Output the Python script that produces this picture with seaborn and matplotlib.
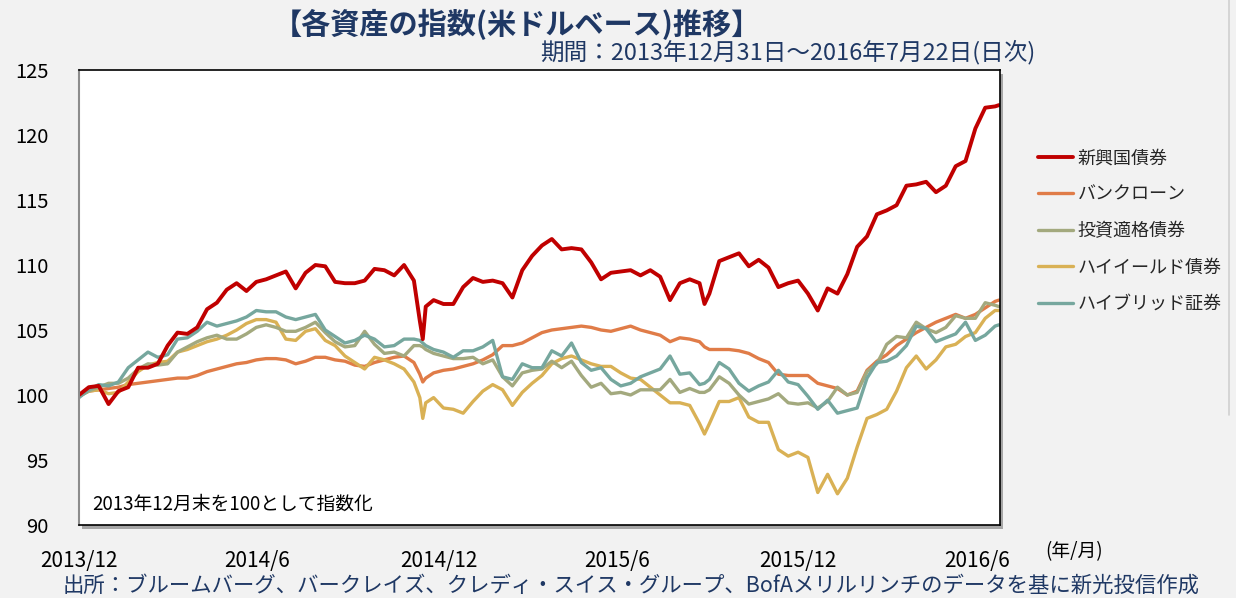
import numpy as np
import pandas as pd
import matplotlib
matplotlib.use("Agg")
import matplotlib.pyplot as plt
from matplotlib.patches import Rectangle
import seaborn as sns

# days after 2013-12-31
DAYS = [0, 10, 20, 30, 40, 50, 60, 70, 80, 90, 100, 110, 120, 130, 140, 150, 160, 170, 180, 190,
        200, 210, 220, 230, 240, 250, 260, 270, 280, 290, 300, 310, 320, 330, 340, 346, 349, 352, 360, 370,
        380, 390, 400, 410, 420, 430, 440, 450, 460, 470, 480, 490, 500, 510, 520, 530, 540, 550, 560, 570,
        580, 590, 600, 610, 620, 630, 635, 640, 650, 660, 670, 680, 690, 700, 710, 720, 730, 740, 750, 760,
        770, 780, 790, 800, 810, 820, 830, 840, 850, 860, 870, 880, 890, 900, 910, 920, 930, 934]

EM_BONDS = [100.0, 100.6, 100.7, 99.3, 100.3, 100.6, 102.1, 102.1, 102.4, 103.8, 104.8, 104.7, 105.2, 106.6, 107.1, 108.1, 108.6, 108.0, 108.7, 108.9,
            109.2, 109.5, 108.2, 109.4, 110.0, 109.9, 108.7, 108.6, 108.6, 108.8, 109.7, 109.6, 109.2, 110.0, 108.8, 105.7, 104.3, 106.8, 107.3, 107.0,
            107.0, 108.3, 109.0, 108.7, 108.8, 108.6, 107.5, 109.6, 110.7, 111.5, 112.0, 111.2, 111.3, 111.2, 110.2, 108.9, 109.4, 109.5, 109.6, 109.2,
            109.6, 109.1, 107.3, 108.6, 108.9, 108.6, 107.0, 107.8, 110.3, 110.6, 110.9, 109.9, 110.4, 109.8, 108.3, 108.6, 108.8, 107.8, 106.5, 108.2,
            107.8, 109.3, 111.4, 112.2, 113.9, 114.2, 114.6, 116.1, 116.2, 116.4, 115.6, 116.1, 117.6, 118.0, 120.5, 122.1, 122.2, 122.3]

BANK_LOAN = [100.0, 100.3, 100.4, 100.5, 100.6, 100.8, 100.9, 101.0, 101.1, 101.2, 101.3, 101.3, 101.5, 101.8, 102.0, 102.2, 102.4, 102.5, 102.7, 102.8,
             102.8, 102.7, 102.4, 102.6, 102.9, 102.9, 102.7, 102.6, 102.3, 102.2, 102.5, 102.7, 102.9, 103.0, 102.5, 101.6, 101.0, 101.3, 101.7, 101.9,
             102.0, 102.2, 102.4, 102.7, 103.1, 103.8, 103.8, 104.0, 104.4, 104.8, 105.0, 105.1, 105.2, 105.3, 105.2, 105.0, 104.9, 105.1, 105.3, 105.0,
             104.8, 104.6, 104.1, 104.4, 104.3, 104.1, 103.7, 103.5, 103.5, 103.5, 103.4, 103.2, 102.8, 102.5, 101.6, 101.5, 101.5, 101.5, 100.9, 100.7,
             100.5, 100.0, 100.3, 101.9, 102.6, 103.1, 103.8, 104.3, 104.8, 105.2, 105.6, 105.9, 106.2, 105.9, 106.2, 106.7, 107.2, 107.3]

IG_BONDS = [99.9, 100.3, 100.6, 100.9, 100.9, 101.3, 102.0, 102.4, 102.3, 102.4, 103.3, 103.7, 104.1, 104.4, 104.6, 104.3, 104.3, 104.7, 105.2, 105.4,
            105.2, 104.9, 104.9, 105.2, 105.6, 104.8, 104.1, 103.7, 103.8, 104.9, 103.9, 103.2, 103.3, 103.0, 103.8, 103.8, 103.7, 103.5, 103.2, 103.0,
            102.8, 102.8, 102.9, 102.4, 102.7, 101.4, 100.7, 101.7, 101.9, 102.0, 102.6, 102.1, 102.6, 101.5, 100.6, 100.9, 100.1, 100.2, 100.0, 100.4,
            100.4, 100.4, 101.2, 100.2, 100.5, 100.2, 100.2, 100.4, 101.4, 100.9, 100.0, 99.3, 99.5, 99.7, 100.1, 99.4, 99.3, 99.4, 99.0, 99.5,
            100.6, 100.0, 100.2, 101.8, 102.4, 103.9, 104.5, 104.4, 105.6, 105.1, 104.8, 105.2, 106.1, 105.9, 105.9, 107.1, 106.9, 106.8]

HIGH_YIELD = [99.9, 100.3, 100.4, 100.1, 100.2, 101.0, 101.8, 102.3, 102.5, 102.6, 103.3, 103.5, 103.8, 104.1, 104.3, 104.6, 105.0, 105.5, 105.8, 105.8,
              105.6, 104.3, 104.2, 104.9, 105.1, 104.2, 103.8, 103.0, 102.5, 102.0, 102.9, 102.7, 102.4, 102.0, 101.0, 99.8, 98.2, 99.4, 99.8, 99.0,
              98.9, 98.6, 99.5, 100.3, 100.8, 100.4, 99.2, 100.2, 100.9, 101.5, 102.4, 102.8, 103.0, 102.7, 102.4, 102.2, 102.2, 101.7, 101.3, 101.2,
              100.6, 100.0, 99.4, 99.4, 99.2, 97.8, 97.0, 97.8, 99.5, 99.5, 99.8, 98.3, 97.9, 97.9, 95.8, 95.3, 95.6, 95.2, 92.5, 93.9,
              92.4, 93.6, 96.0, 98.2, 98.5, 98.9, 100.3, 102.1, 103.0, 102.0, 102.7, 103.7, 103.9, 104.5, 104.8, 105.9, 106.5, 106.5]

HYBRID = [99.8, 100.4, 100.8, 100.7, 101.0, 102.1, 102.7, 103.3, 102.9, 103.1, 104.3, 104.4, 104.9, 105.6, 105.3, 105.5, 105.7, 106.0, 106.5, 106.4,
          106.4, 106.0, 105.8, 106.0, 106.2, 105.0, 104.5, 104.0, 104.2, 104.6, 104.3, 103.7, 103.8, 104.3, 104.3, 104.2, 104.0, 103.8, 103.5, 103.3,
          102.9, 103.4, 103.4, 103.7, 104.2, 101.4, 101.2, 102.4, 102.1, 102.1, 103.4, 103.0, 104.0, 102.5, 101.9, 102.1, 101.2, 100.7, 100.9, 101.4,
          101.7, 102.0, 103.0, 101.6, 101.7, 100.8, 100.9, 101.2, 102.5, 102.0, 100.9, 100.3, 100.7, 101.0, 101.9, 101.0, 100.8, 99.9, 98.9, 99.6,
          98.6, 98.8, 99.0, 101.3, 102.5, 102.6, 103.0, 103.8, 105.3, 105.1, 104.1, 104.4, 104.7, 105.6, 104.2, 104.6, 105.3, 105.4]

SERIES = ['新興国債券', 'バンクローン', '投資適格債券', 'ハイイールド債券', 'ハイブリッド証券']
COLORS = ['#C00000', '#E07C48', '#A3A97E', '#D9B155', '#76A79E']

TICK_DATES = ['2013-12-31', '2014-06-30', '2014-12-31', '2015-06-30', '2015-12-31', '2016-06-30']
TICK_LABELS = ['2013/12', '2014/6', '2014/12', '2015/6', '2015/12', '2016/6']
Y_TICKS = [90, 95, 100, 105, 110, 115, 120, 125]

NAVY = '#1F3864'

sns.set_style("white")
plt.rcParams['font.family'] = ['Noto Sans CJK JP', 'DejaVu Sans']

dates = pd.Timestamp('2013-12-31') + pd.to_timedelta(DAYS, unit='D')
df = pd.DataFrame({'date': dates, SERIES[0]: EM_BONDS, SERIES[1]: BANK_LOAN,
                   SERIES[2]: IG_BONDS, SERIES[3]: HIGH_YIELD, SERIES[4]: HYBRID})
long_df = df.melt(id_vars='date', var_name='series', value_name='value')

W, H = 1236, 598
fig = plt.figure(figsize=(W / 100, H / 100), dpi=100, facecolor='#F2F2F2')
left, right, top, bottom = 79, 1000, 70, 525
ax = fig.add_axes([left / W, 1 - bottom / H, (right - left) / W, (bottom - top) / H])
ax.set_facecolor('white')

# drop shadow behind the plot frame
fig.patches.append(Rectangle(((left + 3) / W, 1 - (bottom + 4) / H), (right - left) / W, (bottom - top) / H,
                             transform=fig.transFigure, facecolor='#A6A6A6', edgecolor='none', zorder=-5))

# draw order: loan first, EM on top
draw_order = [1, 3, 2, 4, 0]
for i in draw_order:
    name = SERIES[i]
    sns.lineplot(data=long_df[long_df['series'] == name], x='date', y='value', ax=ax,
                 color=COLORS[i], linewidth=2.8 if i == 0 else 2.4, label=name)

ax.set_xlim(pd.Timestamp('2013-12-31'), pd.Timestamp('2016-07-23'))
ax.set_ylim(90, 125)
ax.set_yticks(Y_TICKS)
ax.set_yticklabels([str(v) for v in Y_TICKS])
ax.set_xticks(pd.to_datetime(TICK_DATES))
ax.set_xticklabels(TICK_LABELS)
ax.set_xlabel('')
ax.set_ylabel('')
ax.tick_params(axis='y', direction='in', length=5, width=0.8, color='#808080', pad=22, labelsize=14.5, labelcolor='black')
ax.tick_params(axis='x', direction='in', length=5, width=0.8, color='#808080', pad=18, labelsize=15, labelcolor='black')
for side in ['top', 'right', 'bottom']:
    ax.spines[side].set_color('black')
    ax.spines[side].set_linewidth(1.2)
ax.spines['left'].set_color('#8C8C8C')
ax.spines['left'].set_linewidth(1.5)

# legend outside on the right
handles, labels = ax.get_legend_handles_labels()
order = [labels.index(s) for s in SERIES]
ax.legend([handles[k] for k in order], [labels[k] for k in order],
          loc='upper left', bbox_to_anchor=(1022 / W, 1 - 133 / H), bbox_transform=fig.transFigure,
          frameon=False, fontsize=13, handlelength=1.95, handletextpad=0.22, labelspacing=1.02)

ax.text(0.014, 0.045, '2013年12月末を100として指数化', transform=ax.transAxes,
        fontsize=13.5, color='black', ha='left', va='center')

fig.text(517 / W, 1 - 24 / H, '【各資産の指数(米ドルベース)推移】', fontsize=21, fontweight='bold',
         color=NAVY, ha='center', va='center')
fig.text(1035 / W, 1 - 52 / H, '期間：2013年12月31日～2016年7月22日(日次)', fontsize=17,
         color=NAVY, ha='right', va='center')
fig.text(1045 / W, 1 - 552 / H, '(年/月)', fontsize=13.5, color='black', ha='left', va='center')
fig.text(631 / W, 1 - 586 / H,
         '出所：ブルームバーグ、バークレイズ、クレディ・スイス・グループ、BofAメリルリンチのデータを基に新光投信作成',
         fontsize=15.4, color=NAVY, ha='center', va='center')

# faint panel edge on the right
fig.add_artist(plt.Line2D([1229 / W, 1229 / W], [1.0, 1 - 415 / H], transform=fig.transFigure,
                          color='#D0D0D0', linewidth=1.2))

fig.savefig('out.png', dpi=100, facecolor=fig.get_facecolor())
